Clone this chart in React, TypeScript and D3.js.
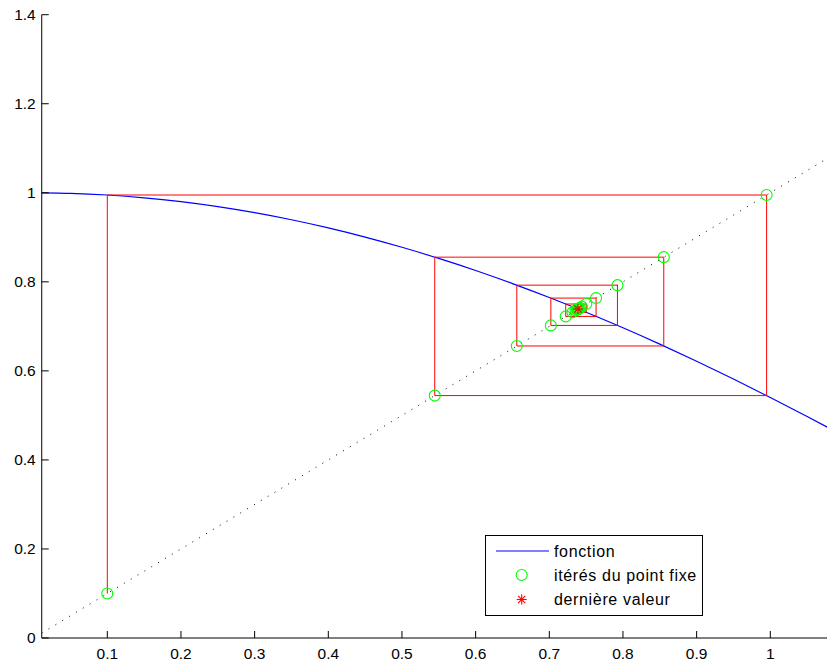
import React from "react";
import * as d3 from "d3";

// Blue curve samples
const curveX = [0.01, 0.05, 0.1, 0.15, 0.2, 0.25, 0.3, 0.35, 0.4, 0.45, 0.5, 0.55, 0.6, 0.65, 0.7, 0.75, 0.8, 0.85, 0.9, 0.95, 1.0, 1.05, 1.1];
const curveY = [0.99995, 0.99875, 0.995, 0.98877, 0.98007, 0.96891, 0.95534, 0.93937, 0.92106, 0.90045, 0.87758, 0.85252, 0.82534, 0.79608, 0.76484, 0.73169, 0.69671, 0.65998, 0.62161, 0.58168, 0.5403, 0.49757, 0.4536];

// Fixed-point iterates
const iterates = [0.1, 0.995, 0.5445, 0.8554, 0.6559, 0.7925, 0.7021, 0.7635, 0.7223, 0.7502, 0.7315, 0.7442, 0.7356, 0.7414, 0.7375, 0.7401, 0.7384, 0.7395, 0.7388, 0.7393, 0.7389];

const xTicks = [0.1, 0.2, 0.3, 0.4, 0.5, 0.6, 0.7, 0.8, 0.9, 1];
const yTicks = [0, 0.2, 0.4, 0.6, 0.8, 1, 1.2, 1.4];
const legendLabels = ["fonction", "itérés du point fixe", "dernière valeur"];

const W = 827;
const H = 664;
const FONT = "'Liberation Sans', Arial, Helvetica, sans-serif";

export default function App() {
  const x0 = 0.011;
  const x1 = 1.09;
  const x = d3.scaleLinear().domain([0.1, 1]).range([107.3, 770.3]);
  const y = d3.scaleLinear().domain([0, 1.4]).range([638, 14.7]);
  const left = x(x0);
  const bottom = y(0);

  const curvePts: [number, number][] = curveX.map((v, i) => [v, curveY[i]]);
  const curveLine = d3
    .line<[number, number]>()
    .x((d) => x(d[0]))
    .y((d) => y(d[1]))
    .curve(d3.curveMonotoneX);

  const web: [number, number][] = [];
  for (let i = 0; i < iterates.length - 1; i++) {
    web.push([iterates[i], iterates[i]]);
    web.push([iterates[i], iterates[i + 1]]);
  }
  web.push([iterates[iterates.length - 1], iterates[iterates.length - 1]]);
  const webLine = d3
    .line<[number, number]>()
    .x((d) => x(d[0]))
    .y((d) => y(d[1]));

  const last = iterates[iterates.length - 1];

  const star = (cx: number, cy: number, r: number) => {
    const d = r * 0.72;
    return (
      <g stroke="#ff0000" strokeWidth={1.1}>
        <line x1={cx - r} y1={cy} x2={cx + r} y2={cy} />
        <line x1={cx} y1={cy - r} x2={cx} y2={cy + r} />
        <line x1={cx - d} y1={cy - d} x2={cx + d} y2={cy + d} />
        <line x1={cx - d} y1={cy + d} x2={cx + d} y2={cy - d} />
      </g>
    );
  };

  const clipId = "plotclip";
  const lx = 485.5, ly = 535.5, lw = 217, lh = 80;
  const rowY = [551, 575, 599.5];

  return (
    <svg
      width={W}
      height={H}
      style={{ position: "absolute", left: 0, top: 0, background: "#fff" }}
      fontFamily={FONT}
    >
      <rect x={0} y={0} width={W} height={H} fill="#fff" />
      <defs>
        <clipPath id={clipId}>
          <rect x={left} y={y(1.4)} width={x(x1) - left} height={bottom - y(1.4)} />
        </clipPath>
      </defs>
      <g clipPath={`url(#${clipId})`}>
        {/* diagonal y = x */}
        <line
          x1={x(x0)}
          y1={y(x0)}
          x2={x(x1)}
          y2={y(x1)}
          stroke="#000"
          strokeWidth={1}
          strokeDasharray="1,7"
        />
        {/* function curve */}
        <path d={curveLine(curvePts) || ""} fill="none" stroke="#0000ff" strokeWidth={1.2} />
        {/* cobweb */}
        <path d={webLine(web) || ""} fill="none" stroke="#ff0000" strokeWidth={1} />
        {/* iterate circles */}
        {iterates.map((v, i) => (
          <circle key={i} cx={x(v)} cy={y(v)} r={5.5} fill="none" stroke="#00ff00" strokeWidth={1.1} />
        ))}
        {star(x(last), y(last), 5)}
      </g>

      {/* axes */}
      <line x1={left} y1={y(1.4)} x2={left} y2={bottom} stroke="#000" strokeWidth={1} />
      <line x1={left} y1={bottom} x2={W} y2={bottom} stroke="#000" strokeWidth={1} />
      {yTicks.map((t) => (
        <g key={"y" + t}>
          <line x1={left} y1={y(t)} x2={left + 7} y2={y(t)} stroke="#000" strokeWidth={1} />
          <text x={left - 6} y={y(t)} dy="0.35em" textAnchor="end" fontSize={15.5} fill="#000">
            {d3.format("")(t)}
          </text>
        </g>
      ))}
      {xTicks.map((t) => (
        <g key={"x" + t}>
          <line x1={x(t)} y1={bottom} x2={x(t)} y2={bottom - 7} stroke="#000" strokeWidth={1} />
          <text x={x(t)} y={bottom + 21} textAnchor="middle" fontSize={15.5} fill="#000">
            {d3.format("")(t)}
          </text>
        </g>
      ))}

      {/* legend */}
      <rect x={lx} y={ly} width={lw} height={lh} fill="#fff" stroke="#000" strokeWidth={1} />
      <line x1={496} y1={rowY[0]} x2={549} y2={rowY[0]} stroke="#0000ff" strokeWidth={1.2} />
      <circle cx={521.7} cy={rowY[1]} r={5.5} fill="none" stroke="#00ff00" strokeWidth={1.1} />
      {star(521.7, rowY[2], 5)}
      {legendLabels.map((l, i) => (
        <text key={l} x={554} y={rowY[i]} dy="0.35em" fontSize={16} letterSpacing={0.65} fill="#000">
          {l}
        </text>
      ))}
    </svg>
  );
}
